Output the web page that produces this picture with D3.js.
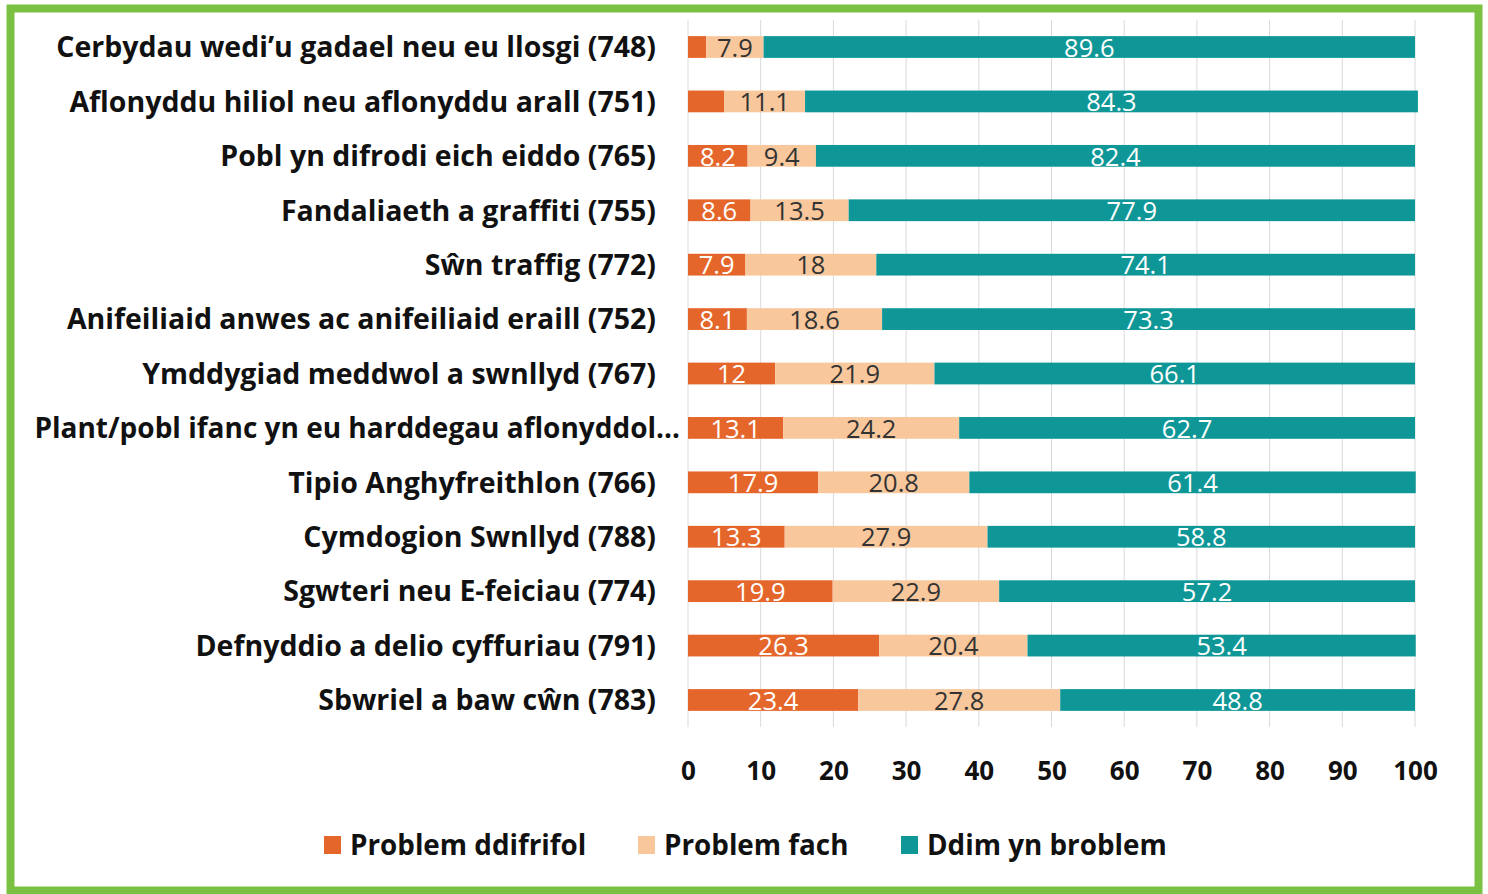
<!DOCTYPE html>
<html><head><meta charset="utf-8">
<script src="https://cdn.jsdelivr.net/npm/d3@7"></script>
<style>body{margin:0;background:#fff;} svg{display:block;}</style>
</head><body>
<svg id="c" width="1488" height="894"></svg>
<script>
const categories = [
  "Cerbydau wedi’u gadael neu eu llosgi (748)",
  "Aflonyddu hiliol neu aflonyddu arall (751)",
  "Pobl yn difrodi eich eiddo (765)",
  "Fandaliaeth a graffiti (755)",
  "Sŵn traffig (772)",
  "Anifeiliaid anwes ac anifeiliaid eraill (752)",
  "Ymddygiad meddwol a swnllyd (767)",
  "Plant/pobl ifanc yn eu harddegau aflonyddol…",
  "Tipio Anghyfreithlon (766)",
  "Cymdogion Swnllyd (788)",
  "Sgwteri neu E-feiciau (774)",
  "Defnyddio a delio cyffuriau (791)",
  "Sbwriel a baw cŵn (783)"
];
const seriesNames = ["Problem ddifrifol", "Problem fach", "Ddim yn broblem"];
const problemDdifrifol = [2.5, 5.0, 8.2, 8.6, 7.9, 8.1, 12, 13.1, 17.9, 13.3, 19.9, 26.3, 23.4];
const problemFach      = [7.9, 11.1, 9.4, 13.5, 18, 18.6, 21.9, 24.2, 20.8, 27.9, 22.9, 20.4, 27.8];
const ddimYnBroblem    = [89.6, 84.3, 82.4, 77.9, 74.1, 73.3, 66.1, 62.7, 61.4, 58.8, 57.2, 53.4, 48.8];
const tickValues = [0,10,20,30,40,50,60,70,80,90,100];
const colors = ["#e5662b", "#f8c89c", "#0f9798"];
const labelColors = ["#ffffff", "#333333", "#ffffff"];

const svg = d3.select("#c");
svg.append("rect").attr("x",0).attr("y",0).attr("width",1488).attr("height",894).attr("fill","#fff");
svg.append("rect").attr("x",10.5).attr("y",8.5).attr("width",1468).attr("height",882)
  .attr("fill","none").attr("stroke","#7ac143").attr("stroke-width",8);

const x = d3.scaleLinear().domain([0,100]).range([688,1415]);
const y = d3.scaleBand().domain(categories).range([19.8,727.2]).paddingInner(0.6).paddingOuter(0.3);

svg.append("g").selectAll("line").data(tickValues).join("line")
  .attr("x1",d=>x(d)).attr("x2",d=>x(d)).attr("y1",20).attr("y2",727)
  .attr("stroke","#d9d9d9").attr("stroke-width",1);

const rows = categories.map((c,i)=>{
  const vals=[problemDdifrifol[i],problemFach[i],ddimYnBroblem[i]];
  let acc=0;
  return vals.map((v,k)=>{const s={cat:c,k,v,x0:acc,x1:acc+v};acc+=v;return s;});
});
const segs = rows.flat();

svg.append("g").selectAll("rect").data(segs).join("rect")
  .attr("x",d=>x(d.x0)).attr("width",d=>x(d.x1)-x(d.x0))
  .attr("y",d=>y(d.cat)).attr("height",y.bandwidth())
  .attr("fill",d=>colors[d.k]);

svg.append("g").selectAll("text").data(segs.filter(d=>d.v>=6 || d.k>0)).join("text")
  .attr("x",d=>x((d.x0+d.x1)/2)).attr("y",d=>y(d.cat)+y.bandwidth()/2)
  .attr("dy","0.38em").attr("text-anchor","middle")
  .attr("font-family","'Open Sans', sans-serif").attr("font-size",25.5)
  .attr("fill",d=>labelColors[d.k])
  .text(d=>d3.format("")(d.v));

svg.append("g").selectAll("text").data(categories).join("text")
  .attr("x",(d,i)=> i===7 ? 680 : 656)
  .attr("y",d=>y(d)+y.bandwidth()/2).attr("dy","0.36em").attr("text-anchor","end")
  .attr("font-family","'Open Sans', sans-serif").attr("font-weight",700)
  .attr("font-size",(d,i)=> i===7 ? 28 : 28.5)
  .attr("fill","#111").text(d=>d);

const ax = svg.append("g").attr("transform","translate(0,748)")
  .call(d3.axisBottom(x).tickValues(tickValues).tickSize(0).tickPadding(14));
ax.select(".domain").remove();
ax.selectAll("text").attr("font-family","'Open Sans', sans-serif").attr("font-weight",700)
  .attr("font-size",26).attr("fill","#111");

const legX=[324,638,901];
const lg = svg.append("g").selectAll("g").data(seriesNames).join("g")
  .attr("transform",(d,i)=>`translate(${legX[i]},845)`);
lg.append("rect").attr("x",0).attr("y",-9).attr("width",17).attr("height",18).attr("fill",(d,i)=>colors[i]);
lg.append("text").attr("x",26).attr("dy","0.36em")
  .attr("font-family","'Open Sans', sans-serif").attr("font-weight",700).attr("font-size",27.8)
  .attr("fill","#111").text(d=>d);
</script>
</body></html>
